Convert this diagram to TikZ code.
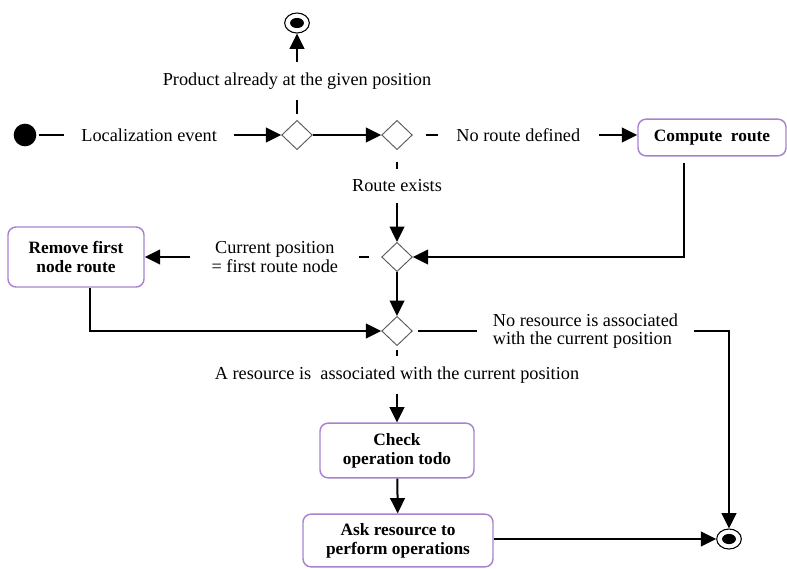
\documentclass[tikz,border=0pt]{standalone}
\usepackage{fontspec}
\setmainfont{Liberation Serif}
\usetikzlibrary{shapes.geometric,arrows.meta}
\definecolor{boxc}{RGB}{168,130,208}
\definecolor{decc}{RGB}{90,90,90}
\begin{document}
\begin{tikzpicture}[x=0.75pt,y=-0.75pt,
  font=\fontsize{13.7}{13.6}\selectfont,
  conn/.style={line width=1.5pt,-{Triangle[length=11.5pt,width=11pt]}},
  lab/.style={fill=white,inner xsep=14pt,inner ysep=7pt,align=center},
  dec/.style={diamond,draw=decc,line width=0.7pt,minimum width=23pt,minimum height=22pt,inner sep=0pt},
  startnode/.style={circle,fill=black,minimum size=17pt,inner sep=0pt},
  endnode/.style={ellipse,draw=black,line width=0.8pt,minimum width=18.5pt,minimum height=15pt,inner sep=0pt,
    path picture={\fill[black] (path picture bounding box.center) ellipse (5.2pt and 3.8pt);}},
  act/.style={rectangle,rounded corners=6pt,draw=boxc,line width=1.1pt,font=\fontsize{13}{14}\selectfont\bfseries,align=center,inner sep=2pt}
]
\useasboundingbox (0,0) rectangle (787,568);

\node[startnode] (start) at (25,135) {};
\node[dec] (d1) at (297,135) {};
\node[dec] (d2) at (397,135) {};
\node[dec] (d3) at (397,257) {};
\node[dec] (d4) at (397,331) {};
\node[endnode] (e1) at (297,23) {};
\node[endnode] (e2) at (729,539) {};

\node[act,minimum width=111pt,minimum height=27.5pt] (compute) at (712,137.5) {Compute\ \ route};
\node[act,minimum width=102pt,minimum height=45pt] (remove) at (76,257) {Remove first\\node route};
\node[act,minimum width=115.5pt,minimum height=41pt] (check) at (397,450.5) {Check\\operation todo};
\node[act,minimum width=142.5pt,minimum height=39.5pt] (ask) at (398,540.5) {Ask resource to\\perform operations};

\draw[conn,shorten <=2pt] (start) -- node[lab,pos=0.46,inner xsep=13pt]{Localization event} (d1);
\draw[conn,shorten <=4.5pt] (d1) -- node[lab,pos=0.45,inner ysep=8pt]{Product already at the given position} (e1);
\draw[conn] (d1) -- (d2);
\draw[conn,shorten <=10pt] (d2) -- node[lab,pos=0.47]{No route defined} (d2 -| compute.west);
\draw[conn,shorten <=9pt] (d2) -- node[lab,pos=0.39,inner ysep=8pt]{Route exists} (d3);
\draw[conn,shorten <=5pt] ([xshift=-21pt]compute.south) |- (d3);
\draw[conn,shorten <=9pt] (d3) -- node[lab,pos=0.45,inner xsep=16pt,inner ysep=1pt]{Current position\\= first route node} (d3 -| remove.east);
\draw[conn] (d3) -- (d4);
\draw[conn] ([xshift=10.5pt]remove.south) |- (d4);
\draw[conn,shorten <=4pt] (d4) -- node[lab,pos=0.546,inner xsep=12pt,inner ysep=1pt,align=left]{No resource is associated\\with the current position} (d4 -| e2) -- (e2);
\draw[conn,shorten <=3pt] (d4) -- node[lab,pos=0.38,inner ysep=8pt]{A resource is\ \ associated with the current position} (check);
\draw[conn] (check) -- (ask);
\draw[conn] (ask.east |- e2) -- (e2);
\end{tikzpicture}
\end{document}
